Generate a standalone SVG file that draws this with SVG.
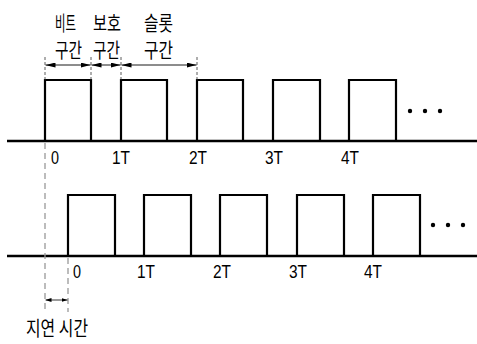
<svg xmlns="http://www.w3.org/2000/svg" width="477" height="344" viewBox="0 0 477 344">
<style>
.pulse{fill:none;stroke:#000;stroke-width:2.2;stroke-linejoin:miter}
.base{stroke:#000;stroke-width:2.5}
.tick{stroke:#333;stroke-width:0.8;stroke-dasharray:3 2}
.gdash{stroke:#999;stroke-width:1.3;stroke-dasharray:6 4}
.arr{stroke:#000;stroke-width:0.9;marker-start:url(#ah);marker-end:url(#ah)}
.arrs{stroke:#000;stroke-width:0.8;marker-start:url(#ahs);marker-end:url(#ahs)}
.kr{font-family:"Noto Sans CJK KR","Noto Sans",sans-serif;font-size:20px;fill:#000}
.num{font-family:"Liberation Sans","DejaVu Sans",sans-serif;font-size:19px;fill:#000}
</style>
<defs>
<marker id="ah" viewBox="0 0 10 5" refX="10" refY="2.5" markerWidth="10" markerHeight="5" markerUnits="userSpaceOnUse" orient="auto-start-reverse">
<path d="M0,0 L10,2.5 L0,5 Z" fill="#000"/>
</marker>
<marker id="ahs" viewBox="0 0 6 4" refX="6" refY="2" markerWidth="6" markerHeight="4" markerUnits="userSpaceOnUse" orient="auto-start-reverse">
<path d="M0,0 L6,2 L0,4 Z" fill="#000"/>
</marker>
</defs>

<g id="top-signal">
<line class="base" x1="7" y1="141" x2="477" y2="141"/>
<path class="pulse" d="M45,141 V80 H91 V141"/>
<path class="pulse" d="M121,141 V80 H167 V141"/>
<path class="pulse" d="M197,141 V80 H243 V141"/>
<path class="pulse" d="M273,141 V80 H320 V141"/>
<path class="pulse" d="M349,141 V80 H396 V141"/>
<circle cx="410" cy="111" r="2.2"/>
<circle cx="425" cy="111" r="2.2"/>
<circle cx="440" cy="111" r="2.2"/>
</g>

<g id="top-labels">
<text class="num" x="51" y="164" textLength="8" lengthAdjust="spacingAndGlyphs">0</text>
<text class="num" x="112" y="164" textLength="18" lengthAdjust="spacingAndGlyphs">1T</text>
<text class="num" x="189" y="164" textLength="18" lengthAdjust="spacingAndGlyphs">2T</text>
<text class="num" x="265" y="164" textLength="18" lengthAdjust="spacingAndGlyphs">3T</text>
<text class="num" x="341" y="164" textLength="18" lengthAdjust="spacingAndGlyphs">4T</text>
</g>

<g id="bottom-signal">
<line class="base" x1="7" y1="256" x2="477" y2="256"/>
<path class="pulse" d="M68,256 V195 H115 V256"/>
<path class="pulse" d="M144,256 V195 H191 V256"/>
<path class="pulse" d="M220,256 V195 H267 V256"/>
<path class="pulse" d="M297,256 V195 H344 V256"/>
<path class="pulse" d="M373,256 V195 H420 V256"/>
<circle cx="433" cy="225" r="2.2"/>
<circle cx="448" cy="225" r="2.2"/>
<circle cx="463" cy="225" r="2.2"/>
</g>

<g id="bottom-labels">
<text class="num" x="73" y="278" textLength="8" lengthAdjust="spacingAndGlyphs">0</text>
<text class="num" x="137" y="278" textLength="18" lengthAdjust="spacingAndGlyphs">1T</text>
<text class="num" x="213" y="278" textLength="18" lengthAdjust="spacingAndGlyphs">2T</text>
<text class="num" x="289" y="278" textLength="18" lengthAdjust="spacingAndGlyphs">3T</text>
<text class="num" x="364" y="278" textLength="18" lengthAdjust="spacingAndGlyphs">4T</text>
</g>

<g id="interval-labels">
<text class="kr" x="55" y="31" textLength="21" lengthAdjust="spacingAndGlyphs">비트</text>
<text class="kr" x="55" y="58" textLength="27" lengthAdjust="spacingAndGlyphs">구간</text>
<text class="kr" x="93" y="31" textLength="28" lengthAdjust="spacingAndGlyphs">보호</text>
<text class="kr" x="93" y="58" textLength="27" lengthAdjust="spacingAndGlyphs">구간</text>
<text class="kr" x="144" y="31" textLength="29" lengthAdjust="spacingAndGlyphs">슬롯</text>
<text class="kr" x="144" y="58" textLength="29" lengthAdjust="spacingAndGlyphs">구간</text>
</g>

<g id="delay-label">
<text class="kr" x="26" y="336" textLength="62" lengthAdjust="spacingAndGlyphs">지연 시간</text>
</g>

<g id="connectors">
<line class="tick" x1="45" y1="57" x2="45" y2="80"/>
<line class="tick" x1="91" y1="57" x2="91" y2="80"/>
<line class="tick" x1="121" y1="57" x2="121" y2="80"/>
<line class="tick" x1="197" y1="57" x2="197" y2="80"/>
<line class="arr" x1="45.5" y1="65" x2="90.5" y2="65"/>
<line class="arr" x1="91.5" y1="65" x2="120.5" y2="65"/>
<line class="arr" x1="121.5" y1="65" x2="196.5" y2="65"/>
<line class="gdash" x1="45" y1="143" x2="45" y2="312"/>
<line class="gdash" x1="68" y1="258" x2="68" y2="312"/>
<line class="arrs" x1="45.5" y1="300" x2="67.5" y2="300"/>
</g>
</svg>
